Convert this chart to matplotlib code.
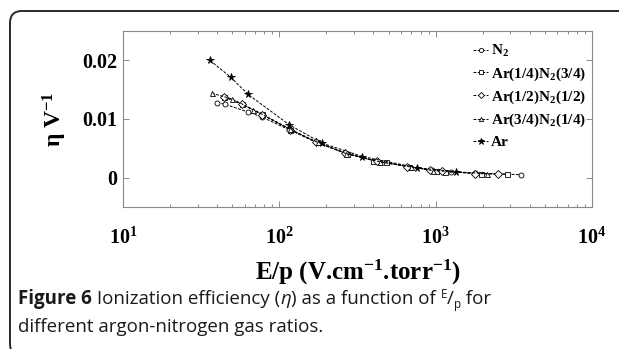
"""Ionization efficiency vs E/p for argon-nitrogen mixtures (Figure 6)."""

import matplotlib

matplotlib.use("Agg")
import matplotlib.pyplot as plt
from matplotlib.patches import FancyBboxPatch
from matplotlib.ticker import LogLocator, NullFormatter
from matplotlib.transforms import IdentityTransform

W, H = 619, 349

# values
N2_X = [40, 45, 63, 78, 117, 172, 264, 430, 670, 950, 1250, 1780, 3530]
N2_Y = [0.0128, 0.0125, 0.0112, 0.0103, 0.0081, 0.0061, 0.0042, 0.0027,
        0.0019, 0.0013, 0.0010, 0.0008, 0.0005]

AR14_X = [44, 58, 78, 117, 175, 270, 400, 480, 680, 1000, 1150, 1950, 2870]
AR14_Y = [0.0138, 0.0125, 0.0108, 0.0082, 0.0060, 0.0041, 0.0029, 0.0026,
          0.0019, 0.0012, 0.0010, 0.0007, 0.0006]

AR12_X = [44, 58, 78, 117, 172, 262, 420, 660, 920, 1100, 1780, 2500]
AR12_Y = [0.0138, 0.0125, 0.0107, 0.0082, 0.0060, 0.0042, 0.0028, 0.0019,
          0.0013, 0.0011, 0.0007, 0.0006]

AR34_X = [37, 50, 68, 117, 176, 268, 440, 700, 960, 2140]
AR34_Y = [0.0144, 0.0134, 0.0116, 0.0083, 0.0060, 0.0041, 0.0027, 0.0018,
          0.0012, 0.0007]

AR_X = [36, 49, 63, 116, 187, 340, 760, 1340]
AR_Y = [0.0200, 0.0171, 0.0142, 0.0090, 0.0059, 0.0036, 0.0017, 0.0010]

SERIES_LABELS = [r"N$_2$", r"Ar(1/4)N$_2$(3/4)", r"Ar(1/2)N$_2$(1/2)",
                 r"Ar(3/4)N$_2$(1/4)", "Ar"]
MARKERS = ["o", "s", "D", "^", "*"]

XTICKS = [10, 100, 1000, 10000]
XTICK_LABELS = [r"$10^{1}$", r"$10^{2}$", r"$10^{3}$", r"$10^{4}$"]
YTICKS = [0, 0.01, 0.02]
YTICK_LABELS = ["0", "0.01", "0.02"]

plt.rcParams["font.family"] = "Liberation Serif"
plt.rcParams["font.weight"] = "bold"
plt.rcParams["axes.labelweight"] = "bold"
plt.rcParams["mathtext.fontset"] = "custom"
plt.rcParams["mathtext.rm"] = "Liberation Serif:bold"
plt.rcParams["mathtext.bf"] = "Liberation Serif:bold"
plt.rcParams["mathtext.it"] = "Liberation Serif:italic:bold"


def px_x(x):
    return x / W


def px_y(y):
    return 1 - y / H


def draw_caption(fig, x, y, pieces):
    """Draw text pieces one after another on a line, in pixel coords."""
    renderer = fig.canvas.get_renderer()
    for text, size, weight, style, dy in pieces:
        t = fig.text(x, H - y + dy, text, transform=IdentityTransform(),
                     fontsize=size, fontweight=weight, fontstyle=style,
                     family="Open Sans", color="#1a1a1a", va="baseline")
        x += t.get_window_extent(renderer).width


fig = plt.figure(figsize=(W / 100, H / 100), dpi=100)

border = FancyBboxPatch((10, H - 11 - 345), 700, 345,
                        boxstyle="round,pad=0,rounding_size=12",
                        transform=IdentityTransform(), fill=False,
                        edgecolor="#2a2a2a", linewidth=1.4)
fig.patches.append(border)

left, right, top, bottom = 123, 592, 31, 207
ax = fig.add_axes([px_x(left), px_y(bottom), px_x(right - left),
                   (bottom - top) / H])

data = [(N2_X, N2_Y), (AR14_X, AR14_Y), (AR12_X, AR12_Y),
        (AR34_X, AR34_Y), (AR_X, AR_Y)]
for (xs, ys), marker, label in zip(data, MARKERS, SERIES_LABELS):
    star = marker == "*"
    ax.plot(xs, ys, linestyle=(0, (3, 1.5)), color="black", linewidth=0.7,
            marker=marker, markersize=5.5 if star else 3.6,
            markerfacecolor="black" if star else "white",
            markeredgecolor="black", markeredgewidth=0.6, label=label)

ax.set_xscale("log")
ax.set_xlim(10, 1e4)
ax.set_ylim(-0.005, 0.025)
ax.set_xticks(XTICKS)
ax.set_xticklabels(XTICK_LABELS)
ax.xaxis.set_minor_locator(LogLocator(base=10, subs=range(2, 10)))
ax.xaxis.set_minor_formatter(NullFormatter())
ax.set_yticks(YTICKS)
ax.set_yticklabels(YTICK_LABELS)

for spine in ax.spines.values():
    spine.set_color("#8a8a8a")
    spine.set_linewidth(0.8)
ax.tick_params(which="both", direction="in", top=True, right=True,
               color="#8a8a8a", width=0.7)
ax.tick_params(which="major", length=4)
ax.tick_params(which="minor", length=2.5)
ax.tick_params(axis="x", which="major", labelsize=14.5, pad=15)
ax.tick_params(axis="y", which="major", labelsize=14.5, pad=4)

ax.set_xlabel(r"E/p (V.cm$^{-1}$.torr$^{-1}$)", fontsize=18)
ax.xaxis.set_label_coords(0.5, (bottom - 272) / (bottom - top))
ax.xaxis.label.set_va("center")
ax.set_ylabel(r"η V$^{-1}$", fontsize=17)
ax.yaxis.set_label_coords((55 - left) / (right - left), 0.5)
ax.yaxis.label.set_va("center")

ax.legend(loc="upper left",
          bbox_to_anchor=((473 - left) / (right - left),
                          (bottom - 43) / (bottom - top)),
          frameon=False, fontsize=11, borderpad=0, handlelength=1.0,
          handletextpad=0.2, labelspacing=0.4, borderaxespad=0,
          markerscale=0.85)

draw_caption(fig, 18, 304, [
    ("Figure 6", 13.5, "bold", "normal", 0),
    (" Ionization efficiency (", 13.5, "normal", "normal", 0),
    ("η", 13.5, "normal", "italic", 0),
    (") as a function of ", 13.5, "normal", "normal", 0),
    ("E", 8.5, "normal", "normal", 6),
    ("/", 13.5, "normal", "normal", 0),
    ("p", 8.5, "normal", "normal", -4),
    (" for", 13.5, "normal", "normal", 0),
])
draw_caption(fig, 18, 332, [
    ("different argon-nitrogen gas ratios.", 13.5, "normal", "normal", 0),
])

fig.savefig("out.png", dpi=100)
